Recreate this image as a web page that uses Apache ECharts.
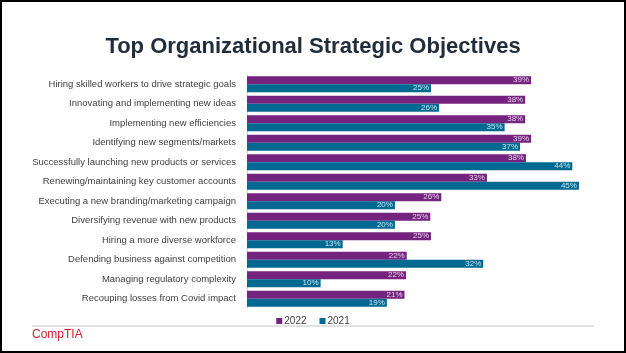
<!DOCTYPE html>
<html>
<head>
<meta charset="utf-8">
<script src="https://cdn.jsdelivr.net/npm/echarts@6/dist/echarts.min.js"></script>
<style>
  html, body { margin: 0; padding: 0; background: #fff; }
  #chart { width: 626px; height: 353px; }
</style>
</head>
<body>
<div id="chart"></div>
<script>
// objectives, top to bottom
const categories = [
  'Hiring skilled workers to drive strategic goals',
  'Innovating and implementing new ideas',
  'Implementing new efficiencies',
  'Identifying new segments/markets',
  'Successfully launching new products or services',
  'Renewing/maintaining key customer accounts',
  'Executing a new branding/marketing campaign',
  'Diversifying revenue with new products',
  'Hiring a more diverse workforce',
  'Defending business against competition',
  'Managing regulatory complexity',
  'Recouping losses from Covid impact'
]
const values2022 = [38.6, 37.8, 37.8, 38.6, 37.9, 32.6, 26.4, 24.9, 25.0, 21.7, 21.6, 21.4]
const values2021 = [25.0, 26.1, 35.0, 37.1, 44.2, 45.1, 20.1, 20.1, 13.0, 32.1, 10.0, 19.0]

const chart = echarts.init(document.getElementById('chart'))

const labelOpt = (color) => ({
  show: true,
  position: 'insideRight',
  distance: 2,
  fontSize: 8,
  fontFamily: 'Liberation Sans',
  color: color,
  formatter: p => Math.round(p.value) + '%'
})

chart.setOption({
  animation: false,
  title: {
    text: 'Top Organizational Strategic Objectives',
    left: 'center',
    top: 31,
    textStyle: { fontSize: 22, fontWeight: 'bold', color: '#222d3b', fontFamily: 'Liberation Sans' }
  },
  legend: {
    data: ['2022', '2021'],
    left: 'center',
    top: 311,
    icon: 'rect',
    itemWidth: 6,
    itemHeight: 6,
    itemGap: 13,
    textStyle: { fontSize: 10, color: '#404040', fontFamily: 'Liberation Sans', padding: [0, 0, 0, -3] }
  },
  grid: { left: 247, right: 11, top: 74.5, height: 234 },
  xAxis: {
    type: 'value',
    min: 0,
    max: 50,
    show: false
  },
  yAxis: {
    type: 'category',
    data: categories,
    inverse: true,
    axisLine: { lineStyle: { color: '#d9d9d9', width: 1 } },
    axisTick: { show: false },
    axisLabel: { fontSize: 9.5, color: '#404040', margin: 11, fontFamily: 'Liberation Sans' }
  },
  series: [
    {
      name: '2022',
      type: 'bar',
      data: values2022,
      barWidth: 8,
      barGap: '0%',
      itemStyle: { color: '#74237f' },
      label: labelOpt('#e6d3ea')
    },
    {
      name: '2021',
      type: 'bar',
      data: values2021,
      barWidth: 8,
      itemStyle: { color: '#006991' },
      label: labelOpt('#cde6f0')
    }
  ],
  graphic: [
    {
      type: 'rect',
      shape: { x: 1, y: 1, width: 624, height: 351 },
      style: { fill: 'none', stroke: '#000', lineWidth: 2 }
    },
    {
      type: 'line',
      shape: { x1: 32, y1: 326, x2: 594, y2: 326 },
      style: { stroke: '#d9d9d9', lineWidth: 1.5 }
    },
    {
      type: 'text',
      left: 32,
      top: 329,
      style: { text: 'CompTIA', fill: '#d2202f', fontSize: 12, fontFamily: 'Liberation Sans' }
    }
  ]
})
</script>
</body>
</html>
